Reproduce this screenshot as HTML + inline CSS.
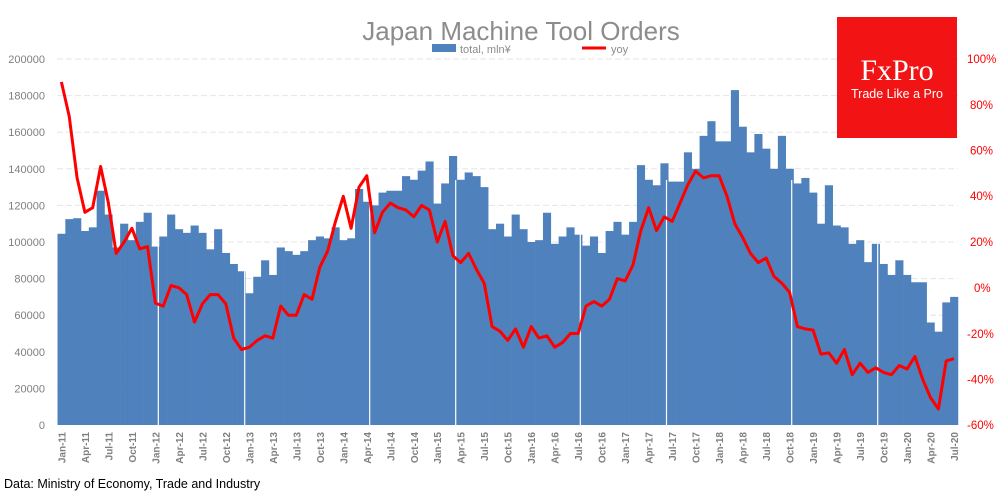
<!DOCTYPE html>
<html><head><meta charset="utf-8"><style>
html,body{margin:0;padding:0;background:#fff;}
svg{display:block;font-family:"Liberation Sans",sans-serif;}
</style></head><body>
<svg id="c" width="1000" height="500" viewBox="0 0 1000 500" xmlns="http://www.w3.org/2000/svg">
<g id="grid" stroke="#e6e6e6" stroke-width="1" stroke-dasharray="6,3"></g>
<g id="bars" fill="#4f81bd"></g>
<g id="sep" stroke="#fff" stroke-width="1.2"></g>
<polyline id="yoy" fill="none" stroke="#ff0000" stroke-width="3" stroke-linejoin="round"/>
<text x="521" y="40" text-anchor="middle" font-size="26" fill="#8c8c8c">Japan Machine Tool Orders</text>
<rect x="432" y="44" width="24" height="8" fill="#4f81bd"/>
<text x="460" y="53" font-size="11" fill="#8c8c8c">total, mln¥</text>
<line x1="582" y1="48" x2="606" y2="48" stroke="#ff0000" stroke-width="3"/>
<text x="611" y="53" font-size="11" fill="#8c8c8c">yoy</text>
<rect x="837" y="17" width="120" height="121" fill="#f21414"/>
<text x="897" y="80" text-anchor="middle" font-size="30" fill="#fff" font-family="Liberation Serif,serif">FxPro</text>
<text x="897" y="98" text-anchor="middle" font-size="12.5" fill="#fff">Trade Like a Pro</text>
<g font-size="11" fill="#7f7f7f" text-anchor="end">
<text x="45" y="429">0</text><text x="45" y="392.4">20000</text><text x="45" y="355.8">40000</text><text x="45" y="319.2">60000</text><text x="45" y="282.6">80000</text><text x="45" y="246">100000</text><text x="45" y="209.4">120000</text><text x="45" y="172.8">140000</text><text x="45" y="136.2">160000</text><text x="45" y="99.6">180000</text><text x="45" y="63">200000</text>
</g>
<g font-size="11.5" fill="#ff0000">
<text x="967" y="63">100%</text><text x="970" y="109">80%</text><text x="970" y="154.5">60%</text><text x="970" y="200">40%</text><text x="970" y="246">20%</text><text x="974" y="292">0%</text><text x="967" y="338">-20%</text><text x="967" y="383.5">-40%</text><text x="967" y="429">-60%</text>
</g>
<g font-size="10" font-weight="bold" fill="#7f7f7f" text-anchor="end" id="xl">
<text transform="translate(65.4,468) rotate(-90)" text-anchor="start">Jan-11</text>
</g>
<text x="4" y="488" font-size="12.5" fill="#000">Data: Ministry of Economy, Trade and Industry</text>
</svg>
<script>
var tot=[104.5,112.5,113,106,108,128,115,97,110,101,111,116,
97.5,103,115,107,105,109,105,96,107,94,88,84,
72,81,90,82,97,95,93,95,101,103,102,108,
101,102,129,122,120,127,128,128,136,134,139,144,
121,132,147,134,138,136,130,107,110,103,115,107,
100,101,116,99,103,108,104,98,103,94,106,111,
104,111,142,134,131,143,133,133,149,140,158,166,
155,155,183,163,149,159,151,140,158,140,132,135,
127,110,131,109,108,99,101,89,99,88,82,90,
82,78,78,56,51,67,70];
var yoy=[90,75,48,33,35,53,37,15,20,26,17,18,
-6.7,-8,1,0,-3,-15,-7,-3,-3,-7,-22,-27,
-26,-23,-21,-22,-8,-12,-12,-3,-5,9,16,29,
40,26,44,49,24,33,37,35,34,31,36,34,
20,29,14,11,15,8,2,-17,-19,-23,-18,-26,
-17,-22,-21,-26,-24,-20,-20,-8,-6,-8,-5,4,
3,10,25,35,25,31,29,37,45,51,48,49,
49,40,28,22,15,11,13,5,2,-2,-17,-18,
-18.5,-29,-28.5,-33,-27,-38,-33,-37,-35,-37,-38,-34,
-35.5,-30,-40,-48,-53,-32,-31];
var ns="http://www.w3.org/2000/svg",x0=57.5,w=7.83;
function el(t,a,p){var e=document.createElementNS(ns,t);for(var k in a)e.setAttribute(k,a[k]);document.getElementById(p).appendChild(e);}
for(var i=1;i<=10;i++){var y=425-i*36.6;el('line',{x1:57,x2:958,y1:y,y2:y},'grid');}
var pts=[];
tot.forEach(function(v,i){var h=v*1.83;el('rect',{x:x0+i*w,y:425-h,width:w+0.3,height:h},'bars');
pts.push((x0+i*w+w/2).toFixed(1)+','+(287.75-yoy[i]*2.2875).toFixed(1));});
document.getElementById('yoy').setAttribute('points',pts.join(' '));
[158.3,244.7,369.7,455.7,580.3,666.5,791.7,877.7].forEach(function(x){el('line',{x1:x,x2:x,y1:180,y2:425},'sep');});
</script>
<svg width="0" height="0" style="position:absolute"></svg>
<script>
var M=["Jan","Apr","Jul","Oct"],g=document.getElementById('xl');g.innerHTML='';
</script>
<svg style="position:absolute;left:0;top:0" width="1000" height="500" font-family="Liberation Sans, sans-serif" font-size="10" font-weight="bold" fill="#7f7f7f">
<g text-anchor="end">
<text transform="translate(65.4,432) rotate(-90)">Jan-11</text>
<text transform="translate(88.9,432) rotate(-90)">Apr-11</text>
<text transform="translate(112.4,432) rotate(-90)">Jul-11</text>
<text transform="translate(135.9,432) rotate(-90)">Oct-11</text>
<text transform="translate(159.4,432) rotate(-90)">Jan-12</text>
<text transform="translate(182.9,432) rotate(-90)">Apr-12</text>
<text transform="translate(206.3,432) rotate(-90)">Jul-12</text>
<text transform="translate(229.8,432) rotate(-90)">Oct-12</text>
<text transform="translate(253.3,432) rotate(-90)">Jan-13</text>
<text transform="translate(276.8,432) rotate(-90)">Apr-13</text>
<text transform="translate(300.3,432) rotate(-90)">Jul-13</text>
<text transform="translate(323.8,432) rotate(-90)">Oct-13</text>
<text transform="translate(347.3,432) rotate(-90)">Jan-14</text>
<text transform="translate(370.8,432) rotate(-90)">Apr-14</text>
<text transform="translate(394.3,432) rotate(-90)">Jul-14</text>
<text transform="translate(417.8,432) rotate(-90)">Oct-14</text>
<text transform="translate(441.2,432) rotate(-90)">Jan-15</text>
<text transform="translate(464.7,432) rotate(-90)">Apr-15</text>
<text transform="translate(488.2,432) rotate(-90)">Jul-15</text>
<text transform="translate(511.7,432) rotate(-90)">Oct-15</text>
<text transform="translate(535.2,432) rotate(-90)">Jan-16</text>
<text transform="translate(558.7,432) rotate(-90)">Apr-16</text>
<text transform="translate(582.2,432) rotate(-90)">Jul-16</text>
<text transform="translate(605.7,432) rotate(-90)">Oct-16</text>
<text transform="translate(629.2,432) rotate(-90)">Jan-17</text>
<text transform="translate(652.6,432) rotate(-90)">Apr-17</text>
<text transform="translate(676.1,432) rotate(-90)">Jul-17</text>
<text transform="translate(699.6,432) rotate(-90)">Oct-17</text>
<text transform="translate(723.1,432) rotate(-90)">Jan-18</text>
<text transform="translate(746.6,432) rotate(-90)">Apr-18</text>
<text transform="translate(770.1,432) rotate(-90)">Jul-18</text>
<text transform="translate(793.6,432) rotate(-90)">Oct-18</text>
<text transform="translate(817.1,432) rotate(-90)">Jan-19</text>
<text transform="translate(840.6,432) rotate(-90)">Apr-19</text>
<text transform="translate(864.1,432) rotate(-90)">Jul-19</text>
<text transform="translate(887.5,432) rotate(-90)">Oct-19</text>
<text transform="translate(911.0,432) rotate(-90)">Jan-20</text>
<text transform="translate(934.5,432) rotate(-90)">Apr-20</text>
<text transform="translate(958.0,432) rotate(-90)">Jul-20</text>
</g>
</svg>
</body></html>
